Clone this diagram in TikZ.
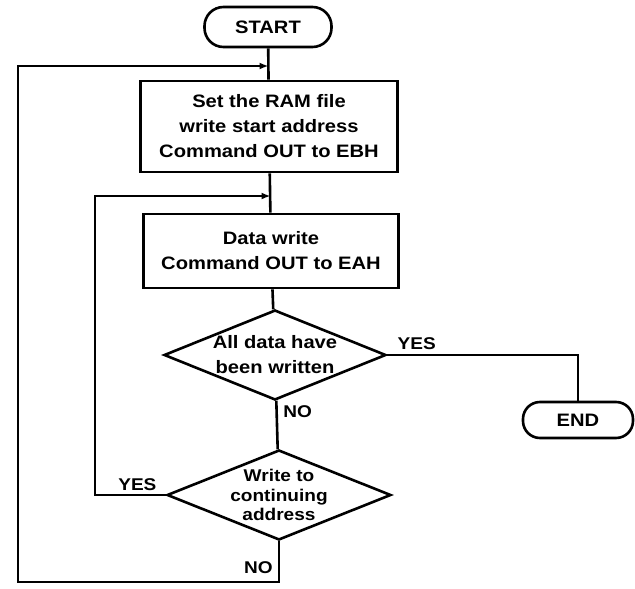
\documentclass[tikz,border=0pt]{standalone}
\usepackage{fontspec}
\newfontfamily\dfont[FakeStretch=1.12]{Liberation Sans}
\usetikzlibrary{shapes.geometric,arrows.meta}
\begin{document}
\begin{tikzpicture}[x=1pt,y=-1pt, line width=2.6pt,
  every node/.style={font=\dfont\bfseries\fontsize{18}{25}\selectfont},
  term/.style={draw, inner sep=0pt, align=center},
  proc/.style={draw, inner sep=0pt, align=center},
  dec/.style={draw, diamond, inner sep=0pt},
  lab/.style={font=\dfont\bfseries\fontsize{17}{20}\selectfont, inner sep=0pt},
  arr/.style={-{Latex[length=9pt,width=7pt]}}
]
\useasboundingbox[fill=white] (0,0) rectangle (635,589);
% nodes
\node[term, rounded corners=19pt, minimum width=127pt, minimum height=40pt] (start) at (268,27) {START};
\node[proc, minimum width=257pt, minimum height=91pt] (b1) at (269,126.5)
  {Set the RAM file\\write start address\\Command OUT to EBH};
\node[proc, minimum width=255pt, minimum height=74pt] (b2) at (271,251)
  {Data write\\Command OUT to EAH};
\node[dec, minimum width=222pt, minimum height=90pt,
  label={[align=center]center:All data have\\been written}] (d1) at (275,355) {};
\node[dec, minimum width=224pt, minimum height=90pt,
  label={[align=center, font=\dfont\bfseries\fontsize{17}{19.5}\selectfont]center:Write to\\continuing\\address}] (d2) at (279,495) {};
\node[term, rounded corners=17pt, minimum width=110pt, minimum height=36pt] (end) at (578,420) {END};
% junctions and corners
\coordinate (j1) at (268.5,66);
\coordinate (j2) at (270.5,196);
\coordinate (c1) at (279,582);
\coordinate (c2) at (18,582);
\coordinate (c4) at (95,196);
% connectors
\draw (start) -- (b1);
\draw (b1) -- (b2);
\draw (b2) -- (d1);
\draw (d1) -- (d2);
\draw (d1.east) -| (end);
\draw[arr] (d2.south) -- (c1) -- (c2) |- (j1);
\draw[arr] (d2.west) -| (c4) -- (j2);
% labels
\node[lab, anchor=south west] (yes1) at ([xshift=9pt,yshift=4pt]d1.east) {YES};
\node[lab, anchor=north west] (no1) at ([xshift=7pt,yshift=-3pt]d1.south) {NO};
\node[lab, anchor=south east] (yes2) at ([xshift=-8pt,yshift=3pt]d2.west) {YES};
\node[lab, anchor=south east] (no2) at ([xshift=-5pt,yshift=7pt]c1) {NO};
\end{tikzpicture}
\end{document}
